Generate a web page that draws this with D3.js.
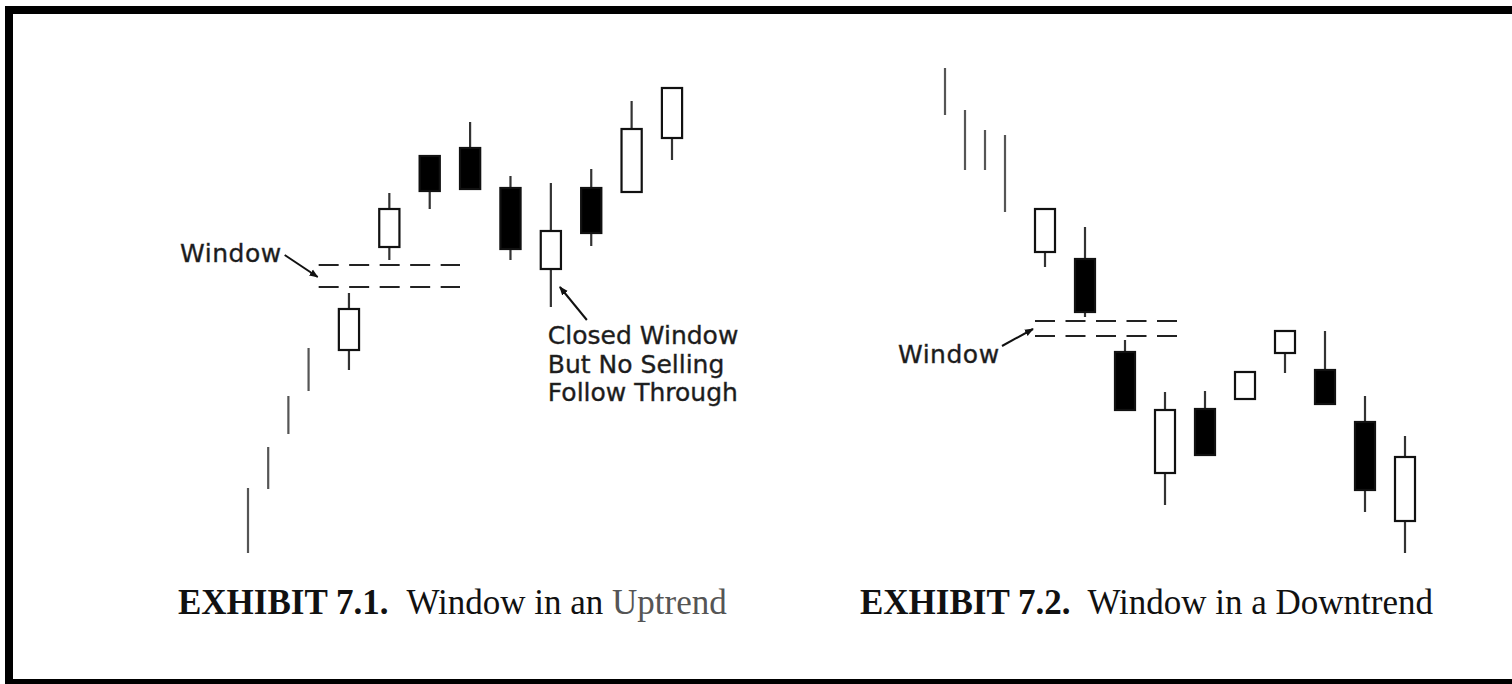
<!DOCTYPE html>
<html>
<head>
<meta charset="utf-8">
<script src="https://cdn.jsdelivr.net/npm/d3@7"></script>
<style>
  body { margin: 0; background: #fff; }
  svg { display: block; }
  .note { font-family: "DejaVu Sans", sans-serif; font-size: 25px; fill: #1a1a1a; stroke: #333; stroke-width: 0.4; }
  .caption { font-family: "Liberation Serif", "Times New Roman", serif; font-size: 35px; fill: #111; }
</style>
</head>
<body>
<svg id="chart" width="1512" height="684"></svg>
<script>
// Exhibit 7.1 - uptrend. bars first (high/low only), then candles
var upBarSlots = [0, 1, 2, 3];
var upBarHigh  = [7.2, 11.3, 16.4, 21.2];
var upBarLow   = [0.7, 7.1, 12.6, 16.9];

var upSlots = [5, 7, 9, 11, 13, 15, 17, 19, 21];
var upOpen  = [21.0, 31.3, 40.4, 41.2, 37.2, 29.1, 37.2, 36.8, 42.2];
var upHigh  = [26.7, 36.7, 40.4, 43.8, 38.4, 37.7, 39.1, 45.9, 47.2];
var upLow   = [19.0, 30.0, 35.1, 37.1, 30.0, 25.3, 31.4, 36.8, 40.0];
var upClose = [25.1, 35.1, 36.9, 37.1, 31.1, 32.9, 32.7, 43.1, 47.2];

var upWindow = [27.3, 29.5];
var upWindowSlots = [3.5, 10.5];

// Exhibit 7.2 - downtrend
var downBarSlots = [0, 1, 2, 3];
var downBarHigh  = [49.2, 45.0, 43.0, 42.5];
var downBarLow   = [44.5, 39.0, 39.0, 34.8];

var downSlots = [5, 7, 9, 11, 13, 15, 17, 19, 21, 23];
var downOpen  = [30.8, 30.1, 20.8, 8.7, 15.1, 16.1, 20.7, 19.0, 13.8, 3.9];
var downHigh  = [35.1, 33.3, 22.0, 16.8, 16.9, 18.8, 22.9, 22.9, 16.4, 12.4];
var downLow   = [29.3, 24.3, 15.0, 5.5, 10.5, 16.1, 18.7, 15.6, 4.8, 0.7];
var downClose = [35.1, 24.8, 15.0, 15.0, 10.5, 18.8, 22.9, 15.6, 7.0, 10.3];

var downWindow = [22.4, 23.9];
var downWindowSlots = [4.5, 11.65];

var noteLines = ["Closed Window", "But No Selling", "Follow Through"];

var svg = d3.select("#chart");

// frame
svg.append("rect")
  .attr("x", 9).attr("y", 10)
  .attr("width", 1515).attr("height", 673)
  .attr("fill", "none")
  .attr("stroke", "#000")
  .attr("stroke-width", 8);

var y = d3.scaleLinear().domain([0, 50]).range([560, 60]);

var defs = svg.append("defs");
defs.append("marker")
  .attr("id", "head")
  .attr("viewBox", "0 0 10 10")
  .attr("refX", 9).attr("refY", 5)
  .attr("markerWidth", 9).attr("markerHeight", 9)
  .attr("markerUnits", "userSpaceOnUse")
  .attr("orient", "auto")
  .append("path")
  .attr("d", "M0,1 L10,5 L0,9 Z")
  .attr("fill", "#111");

function zip(slots, o, h, l, c) {
  return slots.map(function(s, i) {
    return { slot: s, open: o[i], high: h[i], low: l[i], close: c[i] };
  });
}

function drawPanel(x, bars, candles, win, winSlots) {
  var g = svg.append("g");
  var bodyW = (x(1) - x(0)) * 1.0;

  g.selectAll("line.bar")
    .data(bars)
    .enter().append("line")
    .attr("class", "bar")
    .attr("x1", function(d) { return x(d.slot); })
    .attr("x2", function(d) { return x(d.slot); })
    .attr("y1", function(d) { return y(d.high); })
    .attr("y2", function(d) { return y(d.low); })
    .attr("stroke", "#555")
    .attr("stroke-width", 2.2);

  g.selectAll("line.wick")
    .data(candles)
    .enter().append("line")
    .attr("class", "wick")
    .attr("x1", function(d) { return x(d.slot); })
    .attr("x2", function(d) { return x(d.slot); })
    .attr("y1", function(d) { return y(d.high); })
    .attr("y2", function(d) { return y(d.low); })
    .attr("stroke", "#333")
    .attr("stroke-width", 2.2);

  g.selectAll("rect.body")
    .data(candles)
    .enter().append("rect")
    .attr("class", "body")
    .attr("x", function(d) { return x(d.slot) - bodyW / 2; })
    .attr("y", function(d) { return y(Math.max(d.open, d.close)); })
    .attr("width", bodyW)
    .attr("height", function(d) { return Math.abs(y(d.open) - y(d.close)); })
    .attr("fill", function(d) { return d.close < d.open ? "#000" : "#fff"; })
    .attr("stroke", "#111")
    .attr("stroke-width", 2.2);

  // the window, drawn as two dashed lines
  g.selectAll("line.win")
    .data(win)
    .enter().append("line")
    .attr("class", "win")
    .attr("x1", x(winSlots[0]))
    .attr("x2", x(winSlots[1]))
    .attr("y1", function(d) { return y(d); })
    .attr("y2", function(d) { return y(d); })
    .attr("stroke", "#222")
    .attr("stroke-width", 2)
    .attr("stroke-dasharray", "20,10.5");

  return g;
}

function arrow(g, x1, y1, x2, y2) {
  g.append("line")
    .attr("x1", x1).attr("y1", y1)
    .attr("x2", x2).attr("y2", y2)
    .attr("stroke", "#111")
    .attr("stroke-width", 2)
    .attr("marker-end", "url(#head)");
}

// left panel
var xUp = d3.scaleLinear().domain([0, 21]).range([248, 672]);
var gUp = drawPanel(xUp,
  zip(upBarSlots, upBarLow, upBarHigh, upBarLow, upBarLow),
  zip(upSlots, upOpen, upHigh, upLow, upClose),
  upWindow, upWindowSlots);

gUp.append("text").attr("class", "note")
  .attr("x", xUp(upWindowSlots[0]) - 37).attr("y", y(upWindow[1]) - 3)
  .attr("text-anchor", "end")
  .attr("letter-spacing", 0.5)
  .text("Window");
arrow(gUp, xUp(upWindowSlots[0]) - 34, y(upWindow[1]) - 10, xUp(upWindowSlots[0]) - 1, y(upWindow[0]) - 10);

var closedIdx = upSlots.indexOf(15);
arrow(gUp, xUp(15) + 36, y(upLow[closedIdx]) + 13, xUp(15) + 9, y(upLow[closedIdx]) - 20);
gUp.append("text").attr("class", "note")
  .selectAll("tspan")
  .data(noteLines)
  .enter().append("tspan")
  .attr("x", xUp(15) - 3)
  .attr("y", function(d, i) { return 344 + i * 28.5; })
  .text(function(d) { return d; });

// right panel
var xDown = d3.scaleLinear().domain([0, 23]).range([945, 1405]);
var gDown = drawPanel(xDown,
  zip(downBarSlots, downBarLow, downBarHigh, downBarLow, downBarLow),
  zip(downSlots, downOpen, downHigh, downLow, downClose),
  downWindow, downWindowSlots);

gDown.append("text").attr("class", "note")
  .attr("x", xDown(downWindowSlots[0]) - 137).attr("y", y(downWindow[0]) + 27)
  .attr("letter-spacing", 0.5)
  .text("Window");
arrow(gDown, xDown(downWindowSlots[0]) - 33, y(downWindow[0]) + 10, xDown(downWindowSlots[0]) - 2, y(downWindow[0]) - 7);

// captions
var cap1 = svg.append("text").attr("class", "caption").attr("x", 178).attr("y", 614);
cap1.append("tspan").attr("font-weight", "bold").text("EXHIBIT 7.1.");
cap1.append("tspan").attr("dx", 18).text("Window in an ");
cap1.append("tspan").attr("fill", "#555").text("Uptrend");

var cap2 = svg.append("text").attr("class", "caption").attr("x", 860).attr("y", 614);
cap2.append("tspan").attr("font-weight", "bold").text("EXHIBIT 7.2.");
cap2.append("tspan").attr("dx", 17).text("Window in a Downtrend");
</script>
</body>
</html>
